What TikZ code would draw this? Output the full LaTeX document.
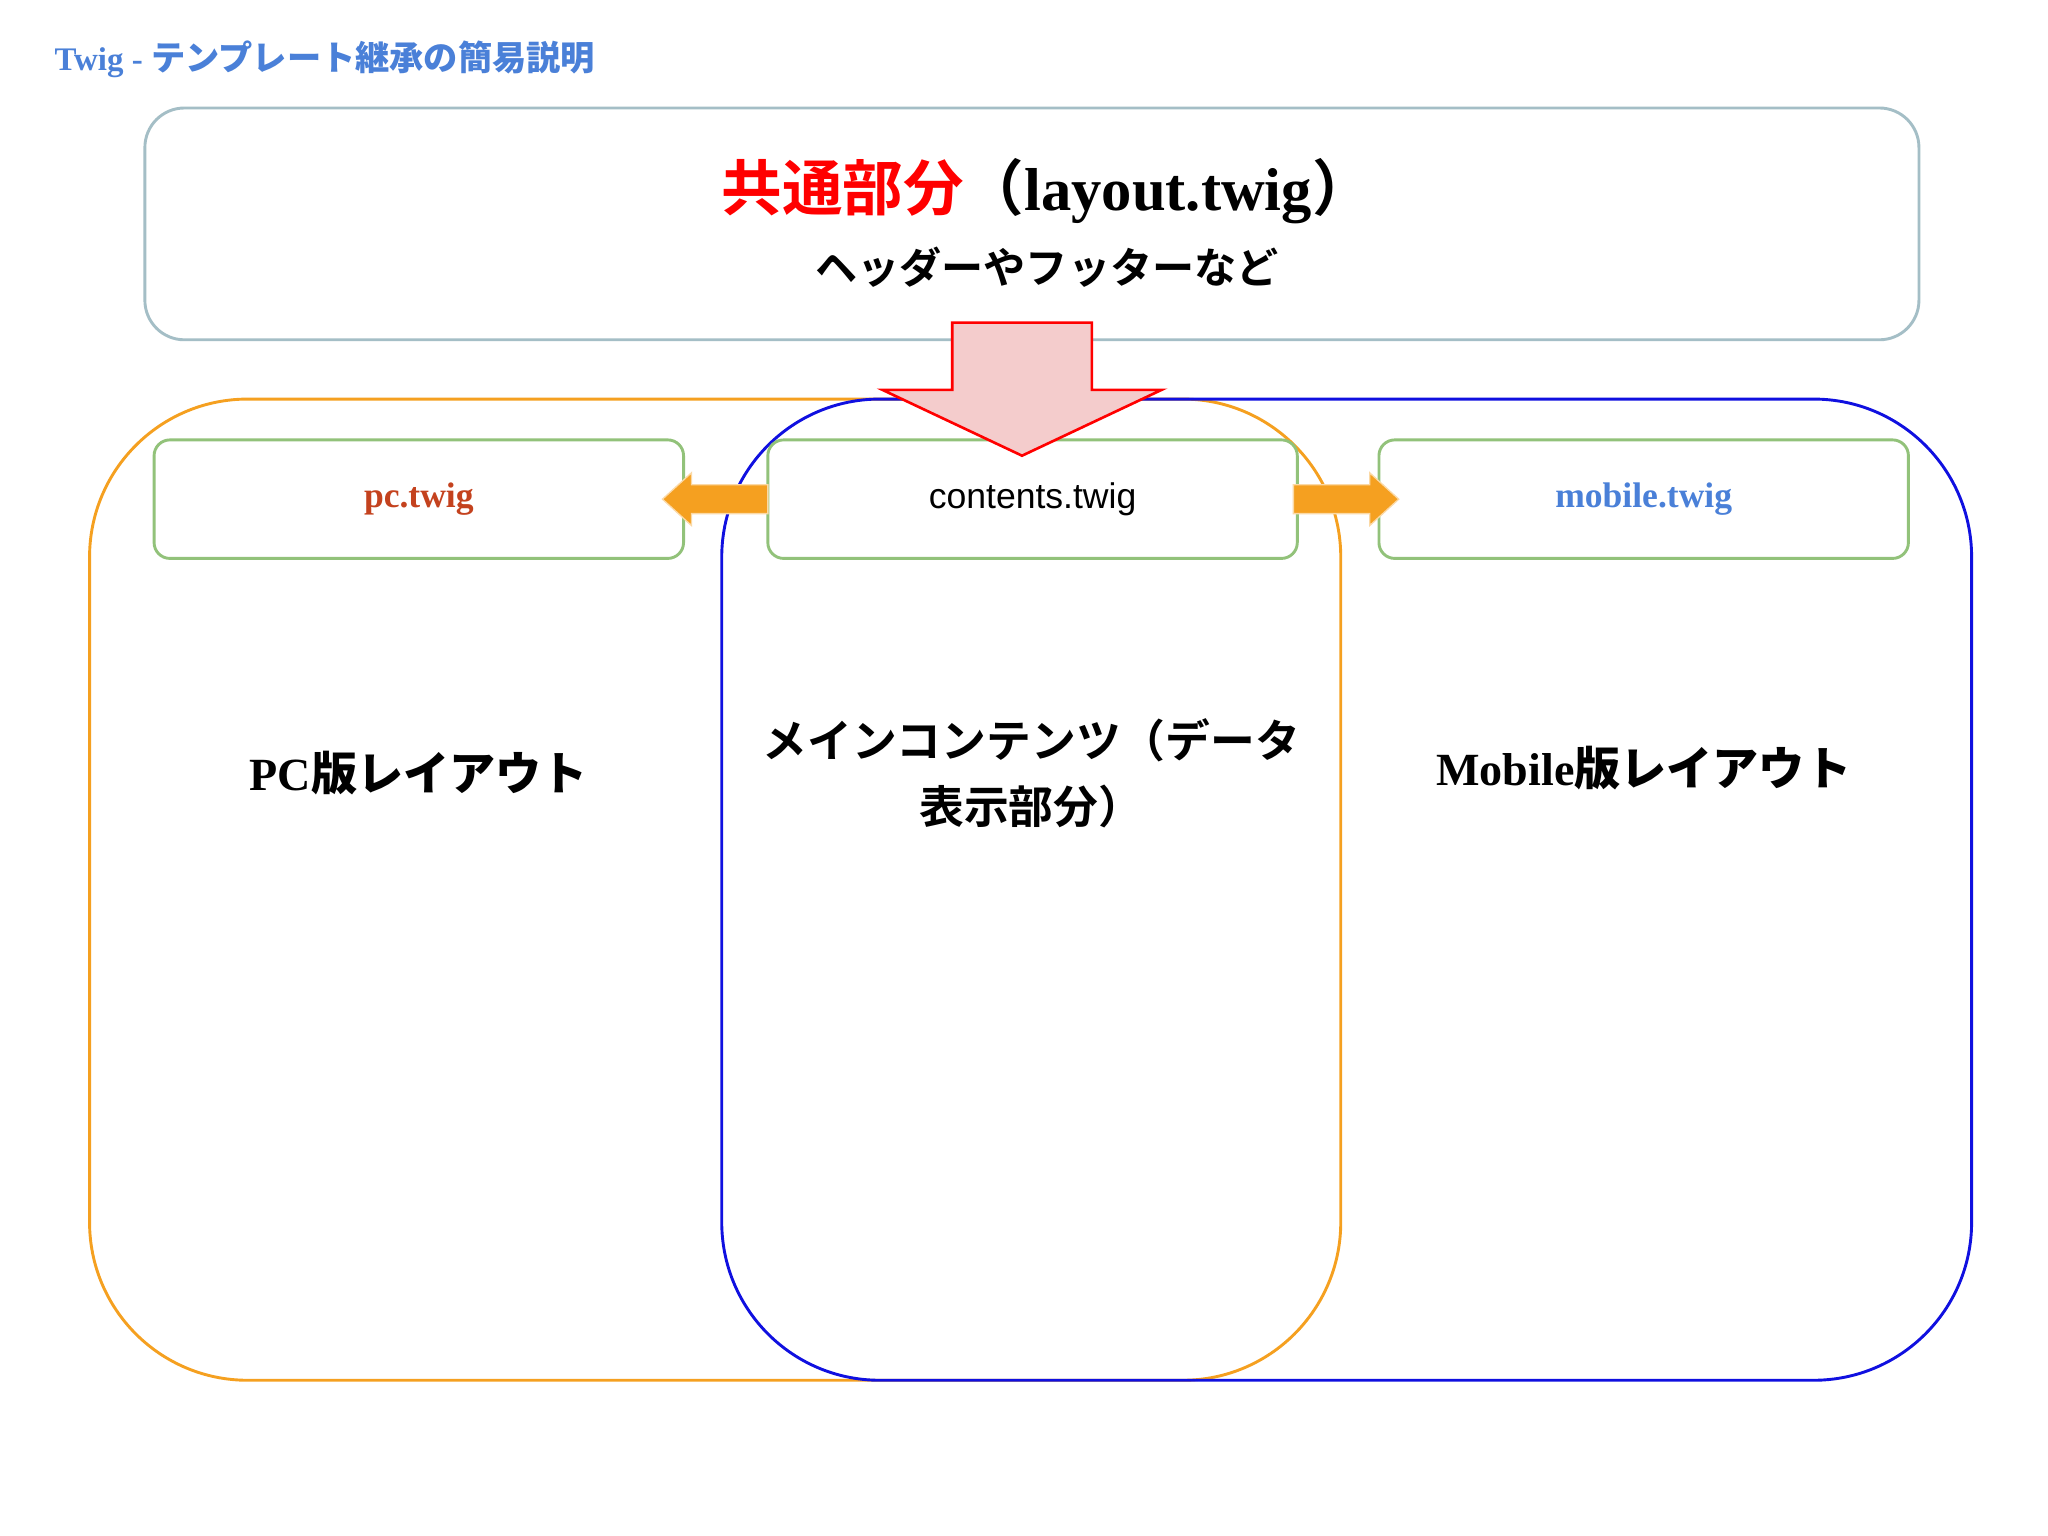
\documentclass[tikz,border=0pt]{standalone}
\usepackage{fontspec}
\setmainfont{Liberation Serif}
\newfontfamily\cjk{Noto Sans CJK JP Bold}
\newfontfamily\sans{Liberation Sans}
\begin{document}
\begin{tikzpicture}[x=1pt,y=-1pt,
  bigbox/.style={draw,line width=2.2pt,rounded corners=120pt,minimum width=#1,minimum height=745pt,inner sep=0pt},
  gbox/.style={draw=gcol,line width=2.2pt,rounded corners=12pt,minimum width=402pt,minimum height=90pt,inner sep=0pt},
  lbl/.style={font=\bfseries\fontsize{35}{44}\selectfont,align=center}]
\definecolor{gcol}{HTML}{92C27A}
\definecolor{ocol}{HTML}{F5A020}
\definecolor{bcol}{HTML}{1010E0}
\definecolor{tcol}{HTML}{4A80D8}
\definecolor{pcol}{HTML}{C4421E}
\definecolor{topcol}{HTML}{A4BEC6}
\definecolor{arrfill}{HTML}{F4CCCC}
\useasboundingbox (0,0) rectangle (1555,1166);
\fill[white] (0,0) rectangle (1555,1166);
\node[anchor=west,text=tcol,font=\bfseries\fontsize{25}{28}\selectfont] (title) at (38,45) {Twig - {\cjk\fontsize{26}{28}\selectfont テンプレート継承の簡易説明}};
\node[draw=topcol,line width=2.2pt,rounded corners=30pt,minimum width=1347pt,minimum height=176pt] (top) at (783.5,170) {};
\node (toptxt) at (795,145) {\fontsize{46}{52}\selectfont{\cjk\color{red}共通部分}{\cjk （}\textbf{layout.twig}{\cjk ）}};
\node (topsub) at (795,203) {\cjk\fontsize{32}{38}\selectfont ヘッダーやフッターなど};
\node[bigbox=950pt,draw=ocol] (pc) at (543,675.5) {};
\node[bigbox=949pt,draw=bcol] (mob) at (1022.5,675.5) {};
\node[gbox] (pct) at (318,379) {};
\node[text=pcol,font=\bfseries\fontsize{27}{30}\selectfont] at (pct) {pc.twig};
\node[gbox] (ct) at (784,379) {};
\node[font=\sans\fontsize{27}{30}\selectfont] at (ct) {contents.twig};
\node[gbox] (mt) at (1248,379) {};
\node[text=tcol,font=\bfseries\fontsize{27}{30}\selectfont] at (mt) {mobile.twig};
\draw[red,line width=2pt,fill=arrfill] (723,245) -- (829,245) -- (829,296) -- (882,296) -- (776,346) -- (670,296) -- (723,296) -- cycle;
\fill[ocol,draw=ocol!40,line width=1pt] (583,368) -- (525,368) -- (525,359) -- (503,379) -- (525,399) -- (525,390) -- (583,390) -- cycle;
\fill[ocol,draw=ocol!40,line width=1pt] (982,368) -- (1040,368) -- (1040,359) -- (1062,379) -- (1040,399) -- (1040,390) -- (982,390) -- cycle;
\node[lbl] (l1) at (318,587) {PC{\cjk 版レイアウト}};
\node[lbl,font=\cjk\fontsize{34}{50}\selectfont] (l2) at (783,587) {メインコンテンツ（データ\\表示部分）};
\node[lbl] (l3) at (1248,583) {Mobile{\cjk 版レイアウト}};
\end{tikzpicture}
\end{document}
